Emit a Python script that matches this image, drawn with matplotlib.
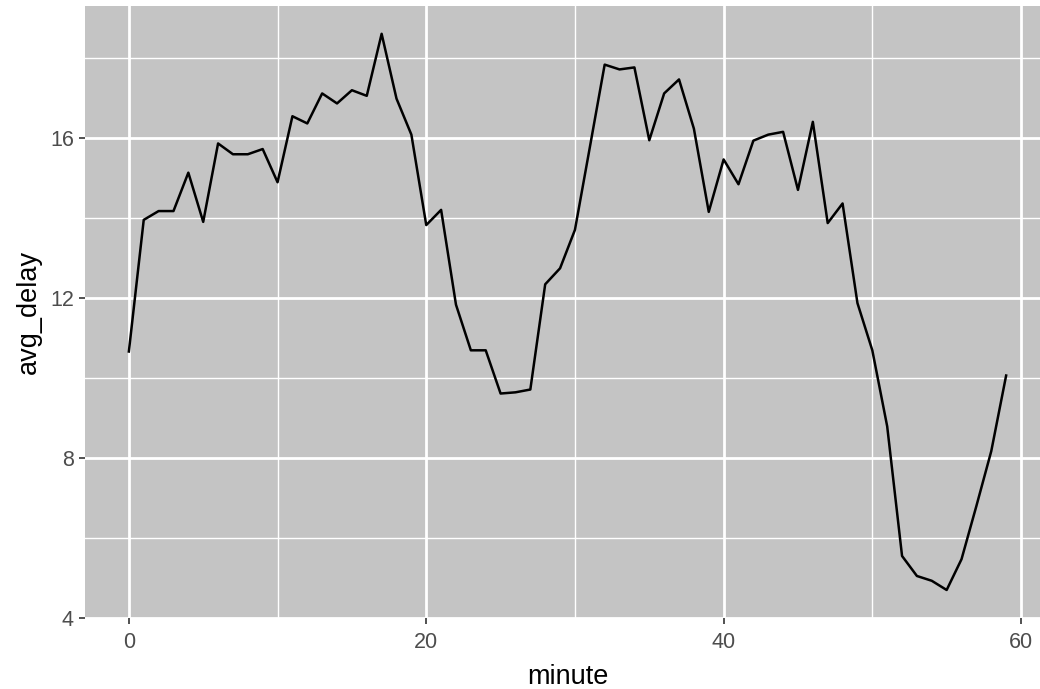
import numpy as np
import matplotlib
matplotlib.use("Agg")
import matplotlib.pyplot as plt
from matplotlib.ticker import MultipleLocator

# --- data: average delay per minute ---
minute = np.arange(60)
avg_delay = [
    10.66, 13.95, 14.17, 14.17, 15.13, 13.90, 15.86, 15.59, 15.59, 15.72,
    14.89, 16.54, 16.36, 17.11, 16.86, 17.19, 17.05, 18.60, 16.98, 16.08,
    13.82, 14.20, 11.83, 10.69, 10.69, 9.61, 9.64, 9.71, 12.34, 12.74,
    13.70, 15.76, 17.83, 17.71, 17.76, 15.94, 17.11, 17.46, 16.23, 14.15,
    15.46, 14.84, 15.93, 16.08, 16.15, 14.70, 16.40, 13.87, 14.36, 11.87,
    10.69, 8.79, 5.55, 5.05, 4.93, 4.70, 5.47, 6.80, 8.17, 10.06,
]
x_ticks = [0, 20, 40, 60]
y_ticks = [4, 8, 12, 16]

plt.rcParams['font.family'] = ['Liberation Sans', 'DejaVu Sans']

W, H = 1040, 689
fig = plt.figure(figsize=(W / 100, H / 100), dpi=100)
# panel: left 85px, top 6px, bottom 618px; right runs past the image edge
ax = fig.add_axes([85 / W, (H - 618) / H, 965 / W, 612 / H])

ax.set_facecolor('#C4C4C4')
ax.plot(minute, avg_delay, color='black', lw=1.8, zorder=3)

# ggplot-style 5% expansion
xr = max(minute) - min(minute)
yr = max(avg_delay) - min(avg_delay)
ax.set_xlim(min(minute) - 0.05 * xr, max(minute) + 0.05 * xr)
ax.set_ylim(min(avg_delay) - 0.05 * yr, max(avg_delay) + 0.05 * yr)

ax.set_xticks(x_ticks)
ax.set_yticks(y_ticks)
ax.xaxis.set_minor_locator(MultipleLocator(10))
ax.yaxis.set_minor_locator(MultipleLocator(2))

ax.grid(which='major', color='white', lw=2.0, zorder=1)
ax.grid(which='minor', color='white', lw=1.0, zorder=1)
ax.set_axisbelow(True)

for s in ax.spines.values():
    s.set_visible(False)

ax.tick_params(which='major', length=4.5, width=1.2, color='#333333',
               labelsize=15.5, labelcolor='#4D4D4D')
ax.tick_params(axis='x', which='major', pad=5.5)
ax.tick_params(axis='y', which='major', pad=3.5)
ax.tick_params(which='minor', length=0)

ax.set_xlabel('minute', fontsize=19.5, color='black', labelpad=8)
ax.set_ylabel('avg_delay', fontsize=19.5, color='black', labelpad=6)

fig.savefig('out.png', dpi=100)
